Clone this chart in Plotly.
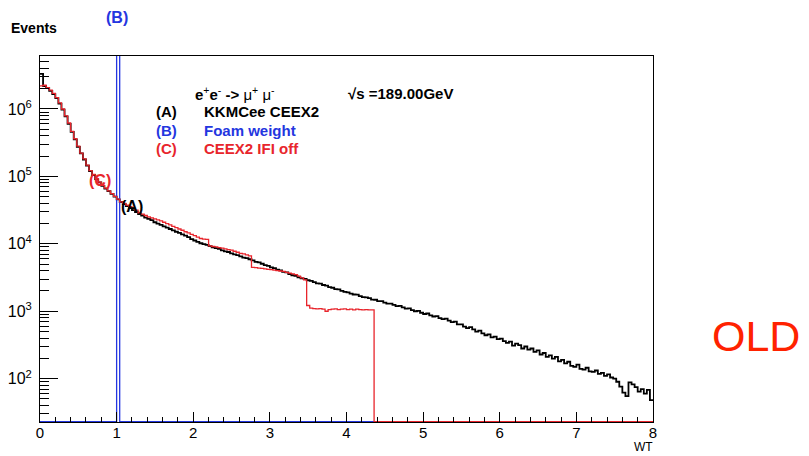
import numpy as np
import plotly.graph_objects as go

# ---------------- data (events per WT bin, 200 bins of width 0.04 on [0, 8]) ----------------
wt_lo, wt_hi, n_bins = 0.0, 8.0, 200

kkmcee_ceex2 = [
    3310000, 2190000, 2040000, 1860000, 1660000, 1450000, 1200000, 977000, 776000, 603000,
    457000, 355000, 275000, 219000, 178000, 145000, 120000, 105000, 91200, 81300,
    72400, 66100, 60300, 55000, 50100, 45700, 41700, 38900, 36300, 33900,
    31600, 29500, 27500, 26300, 24500, 23400, 22400, 20900, 20000, 19100,
    18200, 17400, 16600, 15800, 15100, 14500, 13800, 13200, 12600, 11700,
    11200, 10700, 10200, 9890, 9660, 9230, 8830, 8610, 8400, 8000,
    7700, 7560, 7240, 6950, 6810, 6520, 6240, 6130, 5900, 5700,
    5400, 5290, 5060, 4820, 4720, 4480, 4360, 4140, 4030, 3830,
    3760, 3570, 3420, 3350, 3180, 3070, 3010, 2880, 2830, 2700,
    2590, 2560, 2450, 2400, 2280, 2230, 2130, 2110, 2010, 1940,
    1910, 1820, 1770, 1760, 1680, 1620, 1610, 1560, 1490, 1480,
    1410, 1410, 1340, 1300, 1300, 1240, 1190, 1200, 1140, 1090,
    1100, 1040, 1000, 1010, 950, 910, 925, 870, 835, 845,
    790, 765, 775, 725, 690, 700, 640, 640, 590, 560,
    580, 540, 500, 515, 470, 440, 455, 410, 420, 385,
    392, 360, 340, 355, 310, 330, 315, 280, 300, 270,
    280, 250, 262, 228, 240, 210, 222, 198, 210, 180,
    190, 168, 178, 155, 150, 162, 140, 136, 145, 128,
    126, 132, 118, 122, 110, 116, 104, 100, 90, 76,
    62, 55, 88, 82, 75, 64, 70, 60, 68, 48,
]

ceex2_ifi_off = [
    2200000, 2250000, 2080000, 1900000, 1700000, 1470000, 1230000, 1000000, 790000, 620000,
    465000, 362000, 282000, 222000, 182000, 147000, 122000, 107000, 93000, 82000,
    73500, 67000, 61000, 55500, 50500, 46000, 42000, 39800, 37600, 35500,
    33500, 31600, 28800, 27500, 26300, 25100, 24300, 23400, 22700, 21900,
    20900, 20000, 19100, 18200, 17400, 16600, 15900, 15100, 14500, 13800,
    13200, 12600, 12000, 11750, 11600, 9330, 9120, 9020, 8810, 8610,
    8410, 8220, 8040, 7760, 7500, 7240, 7080, 6840, 6610, 4470,
    4420, 4370, 4310, 4250, 4190, 4130, 4070, 4010, 3950, 3890,
    3780, 3680, 3580, 3480, 3310, 3130, 2920, 1216, 1109, 1096,
    1084, 1096, 1072, 1000, 1059, 1072, 1084, 1059, 1072, 1084,
    1059, 1072, 1047, 1072, 1059, 1047, 1059, 1047, 1047, 0,
    0, 0, 0, 0, 0, 0, 0, 0, 0, 0,
    0, 0, 0, 0, 0, 0, 0, 0, 0, 0,
    0, 0, 0, 0, 0, 0, 0, 0, 0, 0,
    0, 0, 0, 0, 0, 0, 0, 0, 0, 0,
    0, 0, 0, 0, 0, 0, 0, 0, 0, 0,
    0, 0, 0, 0, 0, 0, 0, 0, 0, 0,
    0, 0, 0, 0, 0, 0, 0, 0, 0, 0,
    0, 0, 0, 0, 0, 0, 0, 0, 0, 0,
    0, 0, 0, 0, 0, 0, 0, 0, 0, 0,
]

# Foam weight: every event has WT = 1 -> everything in the bin [1.00, 1.04)
foam_weight = [0] * 25 + [17000000] + [0] * 174

x_tick_vals = [0, 1, 2, 3, 4, 5, 6, 7, 8]
y_tick_vals = [1e2, 1e3, 1e4, 1e5, 1e6]
y_tick_text = ["10<sup>2</sup>", "10<sup>3</sup>", "10<sup>4</sup>", "10<sup>5</sup>", "10<sup>6</sup>"]

# ---------------- styling ----------------
BLACK = "#000000"
BLUE = "#2436e0"
RED = "#e8252c"
FONT = "Liberation Sans, Arial, Helvetica, sans-serif"

y_log_range = [1.357, 6.786]
floor = 10 ** (y_log_range[0] + 0.004)   # empty bins are drawn on the frame, as ROOT does
edges = np.linspace(wt_lo, wt_hi, n_bins + 1)


def step(vals):
    v = np.clip(np.asarray(vals, dtype=float), floor, None)
    return edges, np.append(v, v[-1])


fig = go.Figure()
for vals, color, width in [(kkmcee_ceex2, BLACK, 1.8), (foam_weight, BLUE, 1.3), (ceex2_ifi_off, RED, 1.3)]:
    x, y = step(vals)
    fig.add_trace(go.Scatter(x=x, y=y, mode="lines",
                             line=dict(color=color, width=width, shape="hv"),
                             showlegend=False, hoverinfo="skip"))

minor_y = [m * 10 ** d for d in range(1, 7) for m in range(2, 10)
           if y_log_range[0] < np.log10(m * 10 ** d) < y_log_range[1]]

# the page body adds an 8px offset; the frame spans page pixels x 40..653, y 56..422
fig.update_layout(
    width=801, height=448,
    margin=dict(l=32, r=156, t=48, b=34, autoexpand=False),
    plot_bgcolor="white", paper_bgcolor="white",
    font=dict(family=FONT, color="black", size=16),
    xaxis=dict(range=[wt_lo, wt_hi], tickvals=x_tick_vals, ticks="inside", ticklen=10,
               tickcolor="black", tickwidth=1, automargin=False, ticklabelstandoff=-3,
               minor=dict(ticks="inside", ticklen=5, dtick=0.2, tick0=0, tickcolor="black"),
               showline=True, linecolor="black", linewidth=1, mirror=True,
               showgrid=False, zeroline=False, tickfont=dict(size=15)),
    yaxis=dict(type="log", range=y_log_range, tickvals=y_tick_vals, ticktext=y_tick_text,
               ticks="inside", ticklen=18, tickcolor="black", tickwidth=1, automargin=False,
               minor=dict(ticks="inside", ticklen=9, tickvals=minor_y, tickcolor="black"),
               showline=True, linecolor="black", linewidth=1, mirror=True,
               showgrid=False, zeroline=False, tickfont=dict(size=16), ticklabelstandoff=4),
)


def px_x(px):
    return (px - 40) / 613.0


def px_y(py):
    return (422 - py) / 366.0


annots = [
    dict(text="<b>Events</b>", x=px_x(9), y=px_y(28), xanchor="left", size=14, color=BLACK),
    dict(text="<b>e</b><sup>+</sup><b>e</b><sup>-</sup> <b>-&gt;</b> μ<sup>+</sup> μ<sup>-</sup>",
         x=px_x(193), y=px_y(93), xanchor="left", size=15, color=BLACK),
    dict(text="<b>√s =189.00GeV</b>", x=px_x(346), y=px_y(93), xanchor="left", size=15, color=BLACK),
    dict(text="<b>(A)</b>", x=px_x(154), y=px_y(112), xanchor="left", size=15, color=BLACK),
    dict(text="<b>KKMCee CEEX2</b>", x=px_x(202), y=px_y(112), xanchor="left", size=15, color=BLACK),
    dict(text="<b>(B)</b>", x=px_x(154), y=px_y(130), xanchor="left", size=15, color=BLUE),
    dict(text="<b>Foam weight</b>", x=px_x(202), y=px_y(130), xanchor="left", size=15, color=BLUE),
    dict(text="<b>(C)</b>", x=px_x(154), y=px_y(148), xanchor="left", size=15, color=RED),
    dict(text="<b>CEEX2 IFI off</b>", x=px_x(202), y=px_y(148), xanchor="left", size=15, color=RED),
    dict(text="<b>(B)</b>", x=px_x(117), y=px_y(17), xanchor="center", size=16, color=BLUE),
    dict(text="<b>(C)</b>", x=px_x(100), y=px_y(180), xanchor="center", size=16, color=RED),
    dict(text="<b>(A)</b>", x=px_x(132), y=px_y(206), xanchor="center", size=16, color=BLACK),
    dict(text="OLD", x=px_x(756), y=px_y(336), xanchor="center", size=43, color="#ff2200"),
]
for a in annots:
    fig.add_annotation(text=a["text"], x=a["x"], y=a["y"], xref="paper", yref="paper",
                       xanchor=a["xanchor"], yanchor="middle", showarrow=False,
                       font=dict(size=a["size"], color=a["color"], family=FONT))

# x-axis title "WT", right-aligned under the last tick label
fig.add_annotation(text="WT", x=px_x(654), y=px_y(455), xref="paper", yref="paper",
                   xanchor="right", yanchor="bottom", showarrow=False, borderpad=0,
                   font=dict(size=12, color=BLACK, family=FONT))

fig.write_html("out.html")
